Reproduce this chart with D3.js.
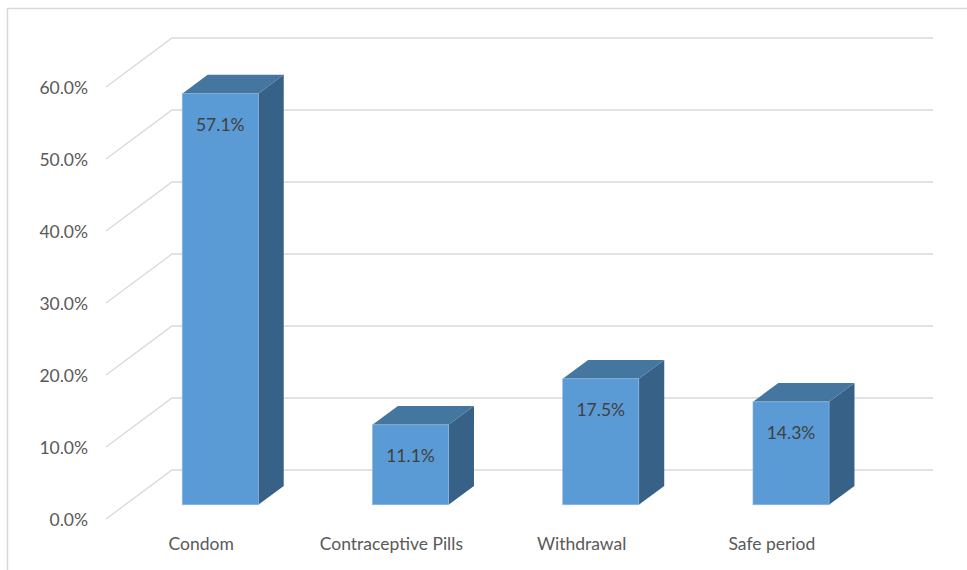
<!DOCTYPE html>
<html>
<head>
<meta charset="utf-8">
<script src="https://cdn.jsdelivr.net/npm/d3@7"></script>
<style>
  html, body { margin: 0; padding: 0; background: #fff; }
  svg { display: block; }
  text { font-family: Lato, "Liberation Sans", Arial, sans-serif; }
</style>
</head>
<body>
<svg id="chart" width="967" height="570"></svg>
<script>
// Contraceptive methods used (share of respondents)
const categories = ["Condom", "Contraceptive Pills", "Withdrawal", "Safe period"];
const values = [0.571, 0.111, 0.175, 0.143];
const tickValues = [0, 0.1, 0.2, 0.3, 0.4, 0.5, 0.6];

const svg = d3.select("#chart");
const W = 967, H = 570;

// Oblique 3D frame: floor front edge, and the shift to the back wall
const floorFrontY = 519;
const floorLeft = 106, floorRight = 867;
const depth = { dx: 66, dy: -49 };
const barZ0 = 0.29, barZ1 = 0.675; // bar depth as fraction of the floor depth

const y = d3.scaleLinear().domain([0, 0.6]).range([floorFrontY, floorFrontY - 432]);
const x = d3.scaleBand().domain(categories).range([floorLeft, floorRight])
  .paddingInner(0.6).paddingOuter(0.3);
const xCat = d3.scaleBand().domain(categories).range([floorLeft, floorRight]);

const pct = d3.format(".1%");
const fontSize = 17.5;

// chart area border
svg.append("rect")
  .attr("x", 7.5).attr("y", 8.5)
  .attr("width", W + 20).attr("height", H + 20)
  .attr("fill", "none").attr("stroke", "#d9d9d9").attr("stroke-width", 1.5);

// gridlines: diagonal side wall segment + horizontal back wall line
const grid = svg.append("g").attr("stroke", "#d9d9d9").attr("stroke-width", 1.3).attr("fill", "none");
tickValues.forEach(t => {
  const fy = y(t);
  grid.append("path").attr("d", d3.line()([
    [floorLeft, fy],
    [floorLeft + depth.dx, fy + depth.dy],
    [floorRight + depth.dx, fy + depth.dy]
  ]));
});

// value axis labels
svg.append("g").selectAll("text").data(tickValues).join("text")
  .attr("x", 88).attr("y", d => y(d) + 3)
  .attr("text-anchor", "end").attr("dominant-baseline", "middle")
  .attr("font-size", fontSize).attr("fill", "#595959")
  .text(d => pct(d));

// category labels along the floor front edge
svg.append("g").selectAll("text").data(categories).join("text")
  .attr("x", d => xCat(d) + xCat.bandwidth() / 2)
  .attr("y", 546)
  .attr("text-anchor", "middle").attr("dominant-baseline", "middle")
  .attr("font-size", fontSize).attr("fill", "#595959")
  .text(d => d);

// 3D columns
const bars = svg.append("g");
const data = categories.map((c, i) => ({ c, v: values[i] }));
data.forEach(d => {
  const ox0 = depth.dx * barZ0, oy0 = depth.dy * barZ0;
  const ox1 = depth.dx * barZ1, oy1 = depth.dy * barZ1;
  const x0 = x(d.c) + ox0, x1 = x0 + x.bandwidth();
  const yb = y(0) + oy0, yt = y(d.v) + oy0;
  const ddx = ox1 - ox0, ddy = oy1 - oy0;
  const g = bars.append("g");
  // right side
  g.append("path").attr("fill", "#386188").attr("d", d3.line()([
    [x1, yb], [x1, yt], [x1 + ddx, yt + ddy], [x1 + ddx, yb + ddy]
  ]) + "Z");
  // top
  g.append("path").attr("fill", "#44769f").attr("d", d3.line()([
    [x0, yt], [x0 + ddx, yt + ddy], [x1 + ddx, yt + ddy], [x1, yt]
  ]) + "Z");
  // front
  g.append("rect").attr("x", x0).attr("y", yt)
    .attr("width", x1 - x0).attr("height", yb - yt)
    .attr("fill", "#5b9bd5").attr("stroke", "#8fb8e0").attr("stroke-width", 0.6);
  // value label
  g.append("text")
    .attr("x", (x0 + x1) / 2).attr("y", yt + 33)
    .attr("text-anchor", "middle").attr("dominant-baseline", "middle")
    .attr("font-size", fontSize).attr("fill", "#404040")
    .text(pct(d.v));
});
</script>
</body>
</html>
